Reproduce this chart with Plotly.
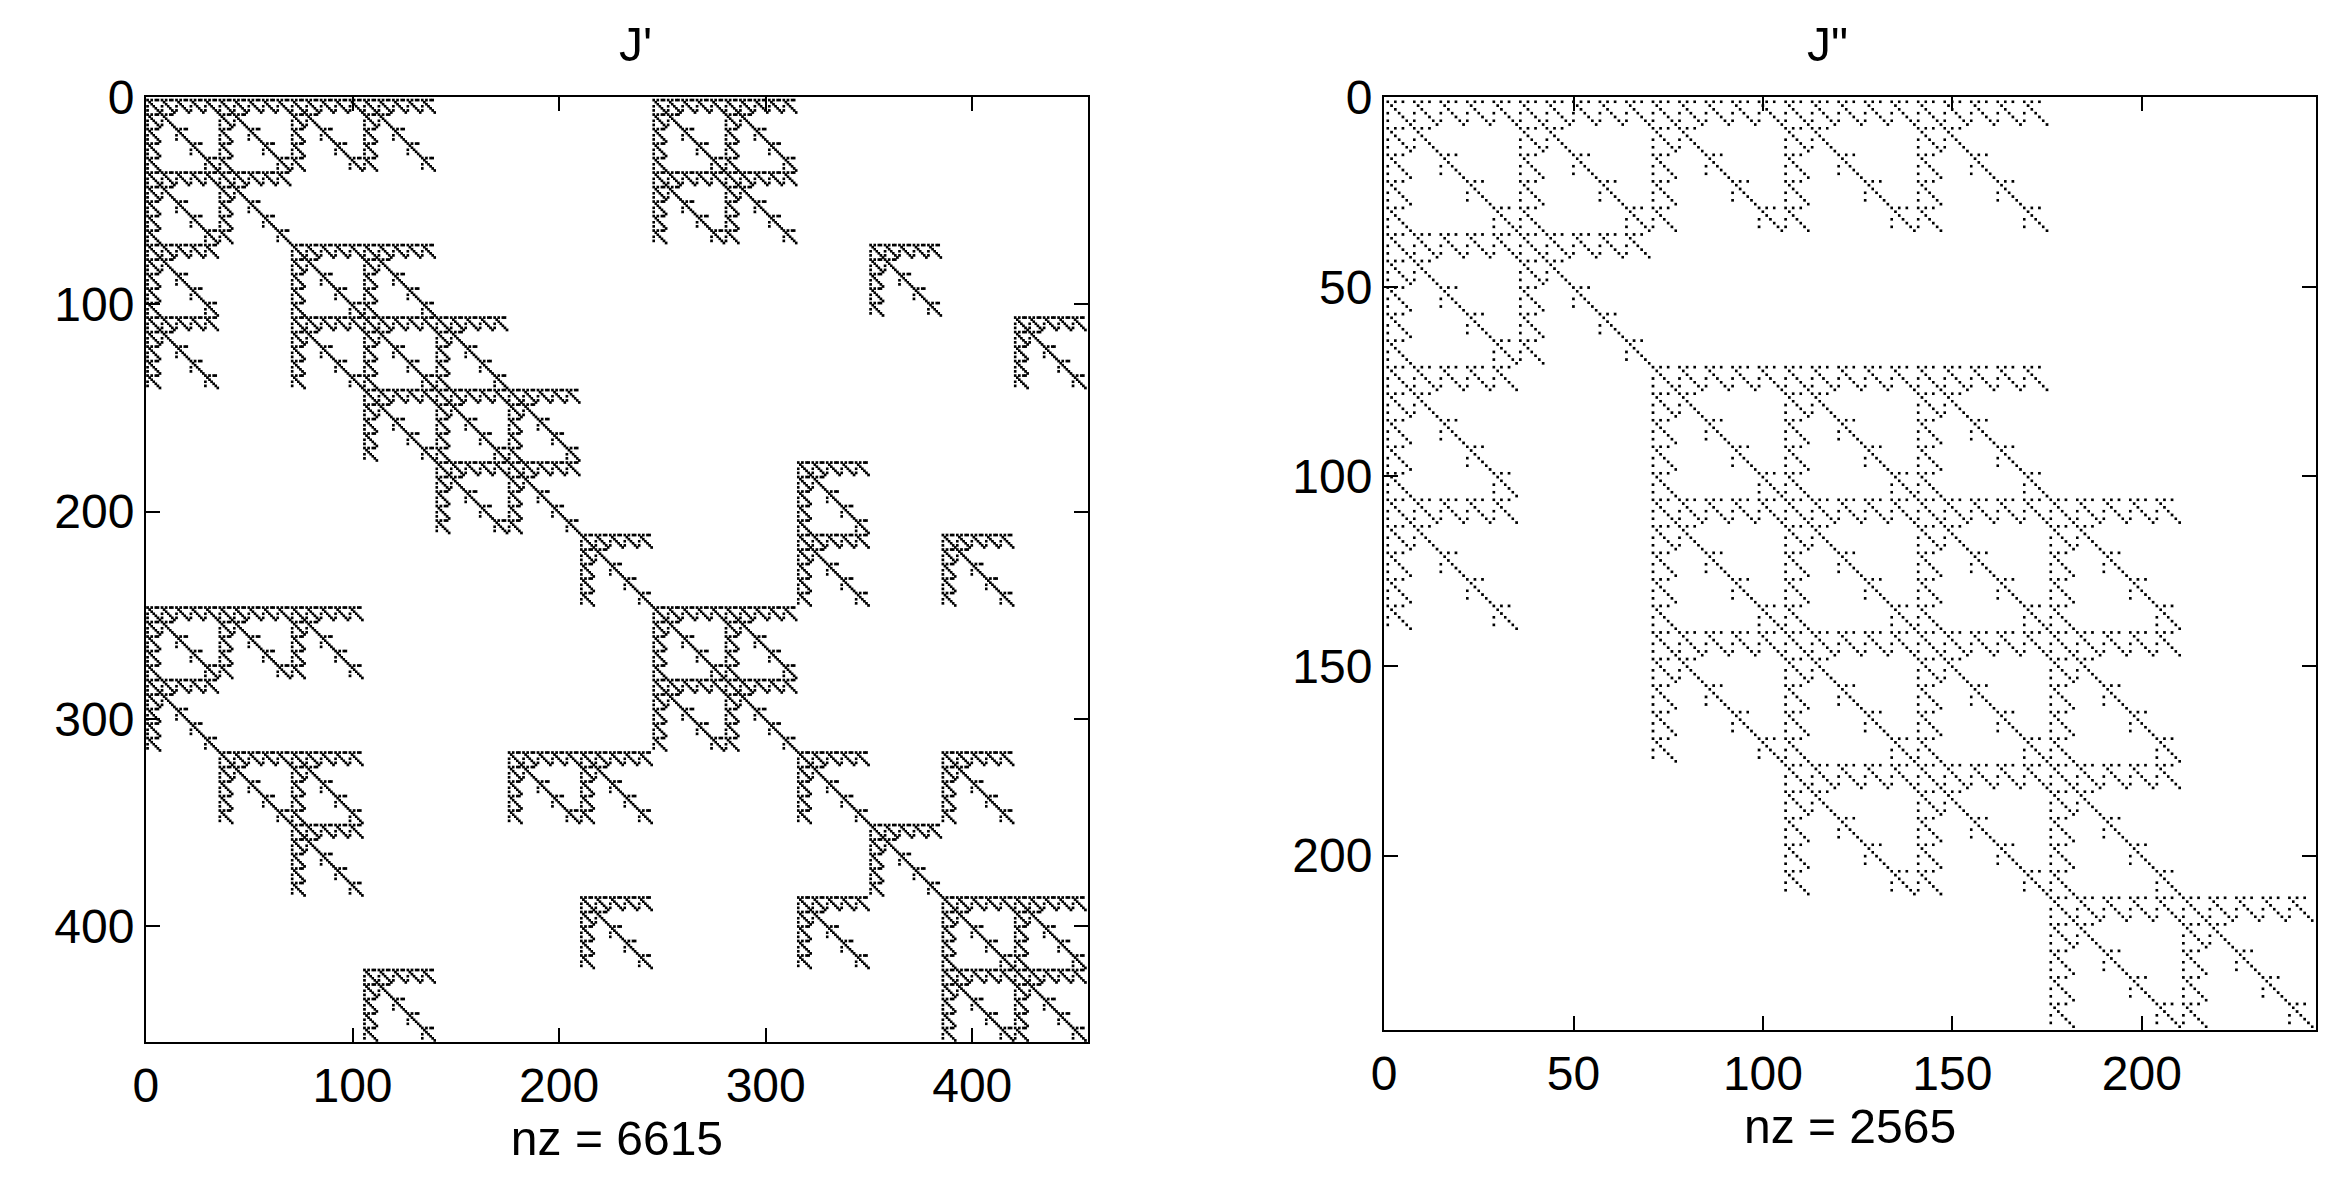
import numpy as np
import plotly.graph_objects as go

# spy plots of two sparse Jacobians, built from 35x35 block patterns
BLOCK = 35

# block occupancy of J' (13 x 13 blocks)
left_blocks = [
    "1111000110000",
    "1100000110000",
    "1011000000100",
    "1011100000001",
    "0001110000000",
    "0000110001000",
    "0000001001010",
    "1110000110000",
    "1000000110000",
    "0110011001010",
    "0010000000100",
    "0000001001011",
    "0001000000011",
]
# block occupancy of J'' (7 x 7 blocks)
right_blocks = [
    "1111100",
    "1100000",
    "1011100",
    "1011110",
    "0011110",
    "0001110",
    "0000011",
]
# sub-block (5x5 of 7x7) pattern inside one block
sub_left = ["11111", "11000", "10100", "10010", "10001"]
cell_left = ["1010110", "0100000", "0010000", "1001000",
             "0000100", "1000010", "0000001"]
sub_right = ["11111", "11000", "10100", "10010", "10001"]
cell_right = ["1010100", "0100000", "0010000", "1001000",
              "0000100", "1000010", "0000001"]

left_nz = "nz = 6615"
right_nz = "nz = 2565"
left_ticks = [0, 100, 200, 300, 400]
right_ticks = [0, 50, 100, 150, 200]


def spy(blocks, sub, cell):
    c = np.array([[int(ch) for ch in r] for r in cell])
    s = np.array([[int(ch) for ch in r] for r in sub])
    b = np.array([[int(ch) for ch in r] for r in blocks])
    m = np.kron(b, np.kron(s, c))
    rows, cols = np.nonzero(m)
    return cols + 1, rows + 1, m.shape[0]


fig = go.Figure()
lx, ly, ln = spy(left_blocks, sub_left, cell_left)
rx, ry, rn = spy(right_blocks, sub_right, cell_right)
fig.add_trace(go.Scattergl(x=lx, y=ly, mode="markers", xaxis="x", yaxis="y",
                           marker=dict(symbol="square", size=2.8, color="black", line=dict(width=0))))
fig.add_trace(go.Scattergl(x=rx, y=ry, mode="markers", xaxis="x2", yaxis="y2",
                           marker=dict(symbol="square", size=2.6, color="black", line=dict(width=0))))

font = dict(family="Liberation Sans, Arial", size=48, color="black")
ax = dict(showgrid=False, zeroline=False, showline=True, linecolor="black", linewidth=2,
          mirror="ticks", ticks="inside", ticklen=14, tickwidth=2, tickcolor="black",
          tickfont=font, automargin=False)
fig.update_layout(
    width=2326, height=1188, showlegend=False,
    paper_bgcolor="white", plot_bgcolor="white",
    margin=dict(l=0, r=0, t=0, b=0),
    xaxis=dict(ax, domain=[0.0593, 0.4643], range=[0, ln + 1], tickvals=left_ticks,
               title=dict(text=left_nz, font=font, standoff=4), anchor="y"),
    yaxis=dict(ax, domain=[0.1296, 0.925], range=[ln + 1, 0], tickvals=left_ticks, anchor="x"),
    xaxis2=dict(ax, domain=[0.5916, 0.9923], range=[0, rn + 1], tickvals=right_ticks,
                title=dict(text=right_nz, font=font, standoff=4), anchor="y2"),
    yaxis2=dict(ax, domain=[0.1397, 0.925], range=[rn + 1, 0], tickvals=right_ticks, anchor="x2"),
    annotations=[
        dict(text="J'", x=0.2618, y=0.945, xref="paper", yref="paper", showarrow=False,
             font=font, yanchor="bottom"),
        dict(text='J"', x=0.792, y=0.945, xref="paper", yref="paper", showarrow=False,
             font=font, yanchor="bottom"),
    ],
)
fig.write_html("out.html")
